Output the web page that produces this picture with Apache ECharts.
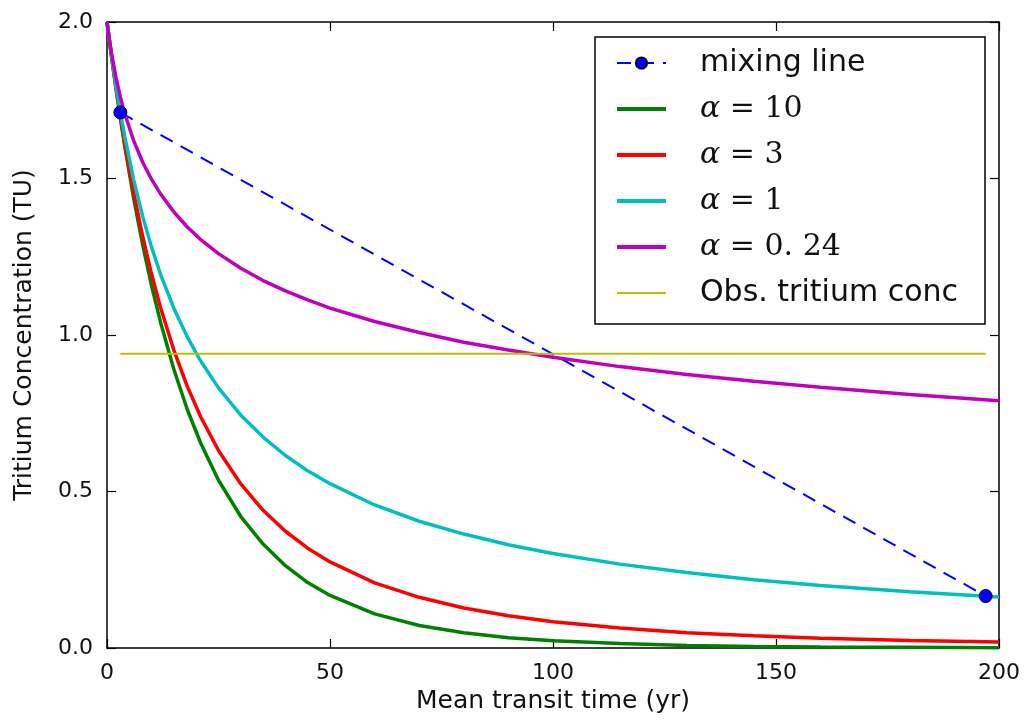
<!DOCTYPE html>
<html>
<head>
<meta charset="utf-8">
<script src="https://cdn.jsdelivr.net/npm/echarts@6/dist/echarts.min.js"></script>
<style>
  html, body { margin: 0; padding: 0; background: #fff; }
  #main { width: 1026px; height: 725px; }
</style>
</head>
<body>
<div id="main"></div>
<script>
// mean transit time (yr)
var tau = [0, 0.5, 1, 2, 3, 4, 6, 8, 10, 12, 15, 18, 21, 25, 30, 35, 40, 45, 50, 60, 70, 80, 90, 100, 115, 130, 145, 160, 180, 200];

// tritium concentration (TU)
var alpha10 = [2.0, 1.945, 1.891, 1.788, 1.692, 1.601, 1.435, 1.288, 1.157, 1.041, 0.890, 0.762, 0.655, 0.536, 0.420, 0.332, 0.263, 0.209, 0.168, 0.109, 0.072, 0.049, 0.033, 0.023, 0.014, 0.008, 0.005, 0.003, 0.002, 0.001];
var alpha3 = [2.0, 1.945, 1.892, 1.791, 1.698, 1.610, 1.453, 1.315, 1.194, 1.088, 0.951, 0.836, 0.739, 0.631, 0.524, 0.440, 0.373, 0.319, 0.275, 0.208, 0.162, 0.128, 0.103, 0.084, 0.064, 0.049, 0.039, 0.031, 0.024, 0.019];
var alpha1 = [2.0, 1.945, 1.894, 1.798, 1.711, 1.633, 1.495, 1.379, 1.280, 1.194, 1.085, 0.994, 0.917, 0.831, 0.744, 0.674, 0.615, 0.566, 0.525, 0.457, 0.405, 0.364, 0.330, 0.302, 0.268, 0.241, 0.218, 0.200, 0.180, 0.163];
var alpha024 = [2.0, 1.948, 1.901, 1.824, 1.760, 1.706, 1.620, 1.552, 1.497, 1.451, 1.393, 1.345, 1.305, 1.260, 1.213, 1.174, 1.141, 1.112, 1.086, 1.043, 1.008, 0.977, 0.952, 0.929, 0.899, 0.874, 0.852, 0.833, 0.810, 0.790];

var mixX = [3, 197];
var mixY = [1.711, 0.166];

var obsX = [3, 197];
var obsY = 0.94;

var names = ['mixing line', 'α = 10', 'α = 3', 'α = 1', 'α = 0.24', 'Obs. tritium conc'];

function pairs(xs, ys) {
  return xs.map(function (x, i) { return [x, ys[i]]; });
}

function curve(name, color, ys) {
  return {
    name: name,
    type: 'line',
    data: pairs(tau, ys),
    symbol: 'none',
    lineStyle: { color: color, width: 3.5 },
    itemStyle: { color: color }
  };
}

function plainItem(name, width) {
  return { name: name, itemStyle: { opacity: 0 }, lineStyle: { width: width } };
}

var frame = { show: true, onZero: false, lineStyle: { color: '#000', width: 1.5 } };
var ticks = { show: true, inside: true, length: 9, lineStyle: { color: '#000', width: 1.2 } };
var tickFont = { color: '#111', fontSize: 22, fontFamily: 'DejaVu Sans' };

var option = {
  animation: false,
  backgroundColor: '#fff',
  grid: { left: 107, right: 27, top: 22, bottom: 77 },
  xAxis: [
    {
      type: 'value', min: 0, max: 200, interval: 50,
      name: 'Mean transit time (yr)', nameLocation: 'middle', nameGap: 40,
      nameTextStyle: { color: '#111', fontSize: 25, fontFamily: 'DejaVu Sans' },
      axisLine: frame, axisTick: ticks,
      axisLabel: Object.assign({ margin: 14 }, tickFont),
      splitLine: { show: false }
    },
    {
      type: 'value', position: 'top', min: 0, max: 200, interval: 50,
      axisLine: frame, axisTick: ticks, axisLabel: { show: false }, splitLine: { show: false }
    }
  ],
  yAxis: [
    {
      type: 'value', min: 0, max: 2, interval: 0.5,
      name: 'Tritium Concentration (TU)', nameLocation: 'middle', nameGap: 70,
      nameTextStyle: { color: '#111', fontSize: 25, fontFamily: 'DejaVu Sans' },
      axisLine: frame, axisTick: ticks,
      axisLabel: Object.assign({ margin: 14, formatter: function (v) { return v.toFixed(1); } }, tickFont),
      splitLine: { show: false }
    },
    {
      type: 'value', position: 'right', min: 0, max: 2, interval: 0.5,
      axisLine: frame, axisTick: ticks, axisLabel: { show: false }, splitLine: { show: false }
    }
  ],
  legend: {
    data: [
      { name: names[0] },
      plainItem(names[1], 4),
      plainItem(names[2], 4),
      plainItem(names[3], 4),
      plainItem(names[4], 4),
      plainItem(names[5], 2)
    ],
    orient: 'vertical',
    left: 595, top: 37,
    padding: [11, 27, 16, 20],
    itemGap: 16,
    itemWidth: 49,
    itemHeight: 14,
    backgroundColor: '#fff',
    borderColor: '#000',
    borderWidth: 1.5,
    borderRadius: 0,
    textStyle: {
      color: '#111', fontSize: 30, fontFamily: 'DejaVu Sans', padding: [0, 0, 0, 29],
      rich: {
        g: { fontSize: 30, fontFamily: 'DejaVu Serif', fontStyle: 'italic', color: '#111' },
        m: { fontSize: 30, fontFamily: 'DejaVu Serif', color: '#111' }
      }
    },
    formatter: function (name) {
      if (name.charAt(0) === 'α') {
        return '{g|α}{m|' + name.slice(1).replace('0.24', '0. 24') + '}';
      }
      return name;
    }
  },
  series: [
    {
      name: names[0],
      type: 'line',
      data: pairs(mixX, mixY),
      symbol: 'circle',
      symbolSize: 13,
      z: 3,
      lineStyle: { color: '#0000ff', width: 2, type: [14, 9] },
      itemStyle: { color: '#0000ff', borderColor: '#000033', borderWidth: 1 }
    },
    curve(names[1], '#008000', alpha10),
    curve(names[2], '#ff0000', alpha3),
    curve(names[3], '#00bfbf', alpha1),
    curve(names[4], '#bf00bf', alpha024),
    {
      name: names[5],
      type: 'line',
      data: pairs(obsX, [obsY, obsY]),
      symbol: 'none',
      lineStyle: { color: '#bfbf00', width: 2 },
      itemStyle: { color: '#bfbf00' }
    }
  ]
};

var chartDom = document.getElementById('main');
var myChart = echarts.init(chartDom);
option && myChart.setOption(option);
</script>
</body>
</html>
